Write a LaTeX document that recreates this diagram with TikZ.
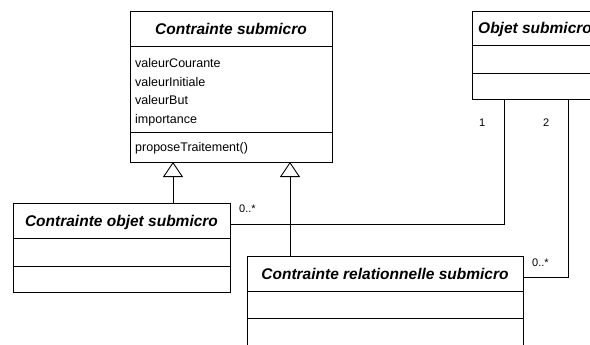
\documentclass[tikz,border=0pt]{standalone}
\usepackage{fontspec}
\setmainfont{Liberation Sans}
\usetikzlibrary{arrows.meta}
\begin{document}
\begin{tikzpicture}[x=1pt,y=-1pt,
  box/.style={draw, line width=0.9pt, fill=white, inner sep=0pt, outer sep=0pt, anchor=north west},
  sep/.style={line width=0.9pt},
  title/.style={inner sep=0pt, anchor=base, font=\fontsize{15.5}{18}\selectfont\bfseries\itshape},
  attr/.style={inner sep=0pt, anchor=base west, font=\fontsize{12.5}{15}\selectfont},
  mult/.style={inner sep=0pt, anchor=base west, font=\fontsize{11}{13}\selectfont},
  conn/.style={line width=0.9pt},
  gen/.style={line width=0.9pt, -{Triangle[open, length=15pt, width=20pt, line width=0.9pt]}}]
\useasboundingbox (0,0) rectangle (590,345);
\clip (0,0) rectangle (590,345);
% Contrainte submicro
\node[box, minimum width=202pt, minimum height=151pt] (cs) at (130,11) {};
\draw[sep] (130,46) -- (332,46);
\draw[sep] (130,132) -- (332,132);
\node[title] (cst) at (231,34.3) {Contrainte submicro};
\node[attr] (a1) at (135,67.7) {valeurCourante};
\node[attr] (a2) at (135,86.2) {valeurInitiale};
\node[attr] (a3) at (135,104.7) {valeurBut};
\node[attr] (a4) at (135,123.2) {importance};
\node[attr] (m1) at (135,152) {proposeTraitement()};
% Objet submicro
\node[box, minimum width=140pt, minimum height=88pt] (os) at (472,11) {};
\draw[sep] (472,45) -- (612,45);
\draw[sep] (472,73) -- (612,73);
\node[title, anchor=base west] (ost) at (478,33.8) {Objet submicro};
% Contrainte objet submicro
\node[box, minimum width=217pt, minimum height=89pt] (co) at (13,203) {};
\draw[sep] (13,238) -- (230,238);
\draw[sep] (13,266) -- (230,266);
\node[title] (cot) at (121.5,226) {Contrainte objet submicro};
% Contrainte relationnelle submicro
\node[box, minimum width=276pt, minimum height=110pt] (cr) at (247,256) {};
\draw[sep] (247,291) -- (523,291);
\draw[sep] (247,318) -- (523,318);
\node[title] (crt) at (385,279.5) {Contrainte relationnelle submicro};
% generalizations
\coordinate (g1) at (173,203);
\coordinate (g2) at (290,256);
\draw[gen] (g1) -- (g1 |- cs.south);
\draw[gen] (g2) -- (g2 |- cs.south);
% associations
\coordinate (p1) at (504,224);
\coordinate (p2) at (568,277);
\draw[conn] (co.east |- p1) -- (p1) -- (p1 |- os.south);
\draw[conn] (cr.east |- p2) -- (p2) -- (p2 |- os.south);
% multiplicities
\node[mult] (l1) at (239,212) {0..*};
\node[mult] (l2) at (532,266) {0..*};
\node[mult] (l3) at (479,127) {1};
\node[mult] (l4) at (543,127) {2};
\end{tikzpicture}
\end{document}
